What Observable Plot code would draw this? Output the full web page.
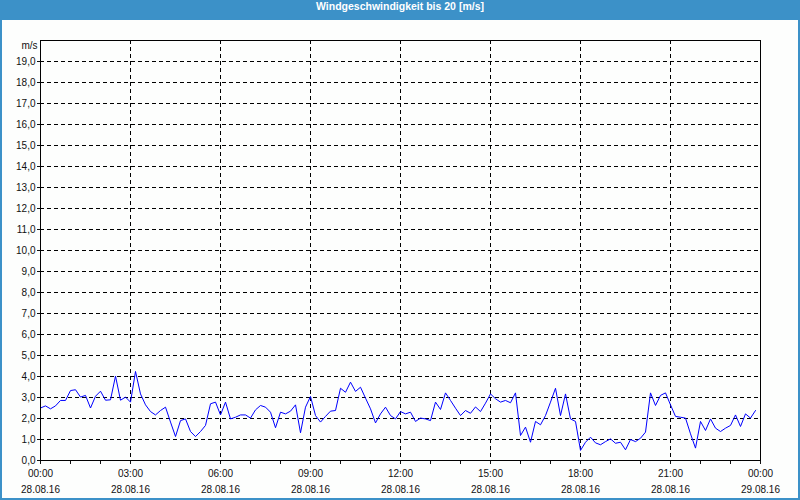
<!DOCTYPE html>
<html>
<head>
<meta charset="utf-8">
<script src="https://cdn.jsdelivr.net/npm/d3@7"></script>
<script src="https://cdn.jsdelivr.net/npm/@observablehq/plot@0.6"></script>
<style>
  html, body { margin: 0; padding: 0; background: #fdfefd; }
  #wrap {
    position: relative; width: 800px; height: 500px; box-sizing: border-box;
    border: 2px solid #3c91c8; border-top: 0; background: #fdfefd; overflow: hidden;
  }
  #title {
    height: 20px; line-height: 19px; margin: 0 -2px; background: #3c91c8; color: #fff;
    font: bold 10.5px "Liberation Sans", "DejaVu Sans", sans-serif; text-align: center;
  }
  #chart svg { display: block; }
</style>
</head>
<body>
<div id="wrap">
  <div id="title">Windgeschwindigkeit bis 20 [m/s]</div>
  <div id="chart"></div>
</div>
<script>
// Wind speed (m/s), one reading every 10 minutes from 28.08.16 00:00
const startMs = Date.UTC(2016, 7, 28, 0, 0);
const speed = [
  2.5, 2.6, 2.46, 2.6, 2.86, 2.86, 3.33, 3.37, 3.02, 3.1,
  2.5, 3.06, 3.3, 2.87, 2.89, 4.02, 2.87, 3.02, 2.78, 4.24,
  3.17, 2.65, 2.33, 2.17, 2.38, 2.54, 1.83, 1.14, 1.9, 1.98,
  1.38, 1.14, 1.38, 1.67, 2.7, 2.78, 2.17, 2.78, 1.98, 2.06,
  2.17, 2.17, 2.02, 2.41, 2.62, 2.54, 2.3, 1.56, 2.3, 2.22,
  2.35, 2.65, 1.32, 2.54, 3.05, 2.14, 1.83, 2.1, 2.35,
  2.38, 3.44, 3.25, 3.73, 3.29, 3.49, 2.97, 2.46, 1.79, 2.22,
  2.54, 2.14, 1.98, 2.33, 2.22, 2.3, 1.86, 2.02, 1.98, 1.9,
  2.78, 2.43, 3.22, 2.86, 2.49, 2.14, 2.38, 2.25, 2.55,
  2.33, 2.73, 3.17, 2.94, 2.78, 2.86, 2.75, 3.22, 1.19, 1.59,
  0.87, 1.86, 1.7, 2.14, 2.78, 3.44, 2.14, 3.17, 1.98, 1.86,
  0.48, 0.87, 1.11, 0.84, 0.75, 0.9, 1.03, 0.82,
  0.87, 0.51, 1.0, 0.9, 1.06, 1.35, 3.22, 2.62, 3.1, 3.22,
  2.65, 2.1, 2.06, 2.02, 1.27, 0.59, 1.86, 1.43, 1.98, 1.54,
  1.38, 1.54, 1.67, 2.17, 1.62, 2.22, 2.02, 2.38
];
const labelHours = [0, 3, 6, 9, 12, 15, 18, 21, 24];
const timeLabels = ["00:00", "03:00", "06:00", "09:00", "12:00", "15:00", "18:00", "21:00", "00:00"];
const dateLabels = ["28.08.16", "28.08.16", "28.08.16", "28.08.16", "28.08.16", "28.08.16", "28.08.16", "28.08.16", "29.08.16"];
const yTicks = [0, 1, 2, 3, 4, 5, 6, 7, 8, 9, 10, 11, 12, 13, 14, 15, 16, 17, 18, 19];
const yGrid = [1, 2, 3, 4, 5, 6, 7, 8, 9, 10, 11, 12, 13, 14, 15, 16, 17, 18, 19];
const unitLabel = "m/s";

const HOUR = 3600000;
const data = speed.map((v, i) => ({t: new Date(startMs + i * 600000), v}));
const hourTicks = d3.range(0, 25).map(h => new Date(startMs + h * HOUR));
const gridTimes = [3, 6, 9, 12, 15, 18, 21].map(h => new Date(startMs + h * HOUR));
const labels = labelHours.map((h, i) => ({t: new Date(startMs + h * HOUR), time: timeLabels[i], date: dateLabels[i]}));

const font = '"Liberation Sans", "DejaVu Sans", sans-serif';
const chart = Plot.plot({
  width: 796,
  height: 478,
  marginLeft: 38,
  marginRight: 38,
  marginTop: 20,
  marginBottom: 38,
  style: {fontFamily: font, fontSize: "10px", background: "transparent", color: "#111"},
  x: {type: "utc", domain: [new Date(startMs), new Date(startMs + 24 * HOUR)]},
  y: {domain: [0, 20]},
  marks: [
    Plot.gridY(yGrid, {stroke: "#000", strokeOpacity: 1, strokeDasharray: "4,3"}),
    Plot.gridX(gridTimes, {stroke: "#000", strokeOpacity: 1, strokeDasharray: "4,3"}),
    Plot.axisY(yTicks, {tickSize: 3, tickPadding: 2, tickFormat: d => d.toFixed(1).replace(".", ","), label: null, fill: "#111"}),
    Plot.axisX(hourTicks, {tickSize: 4, tickFormat: () => "", label: null}),
    Plot.text(labels, {x: "t", y: () => 0, text: "time", dy: 13, lineAnchor: "middle", fill: "#111"}),
    Plot.text(labels, {x: "t", y: () => 0, text: "date", dy: 29, lineAnchor: "middle", fill: "#111"}),
    Plot.text([unitLabel], {frameAnchor: "top-left", textAnchor: "end", lineAnchor: "middle", dx: -3, dy: 5, fill: "#111"}),
    Plot.line(data, {x: "t", y: "v", stroke: "#0000ff", strokeWidth: 1}),
    Plot.frame({stroke: "#000"})
  ]
});
document.getElementById("chart").appendChild(chart);
</script>
</body>
</html>
